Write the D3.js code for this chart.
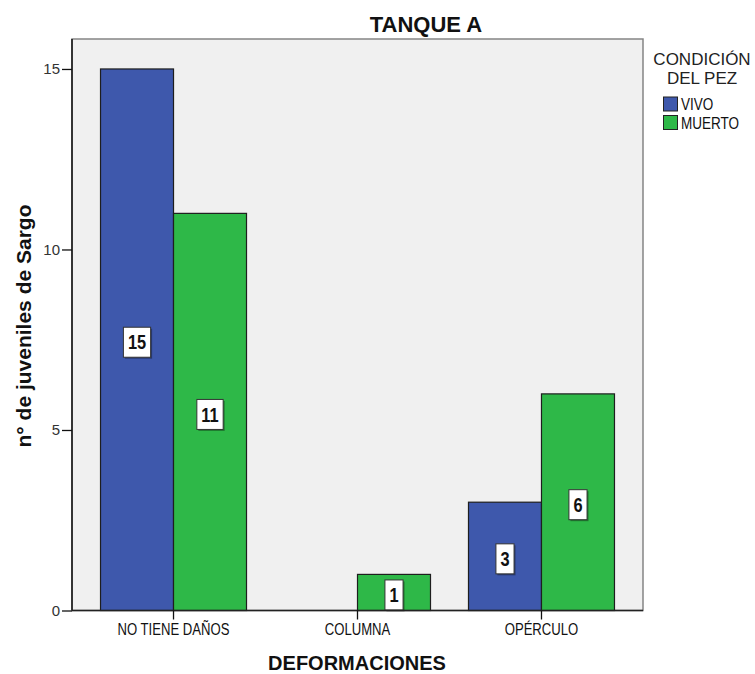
<!DOCTYPE html>
<html>
<head>
<meta charset="utf-8">
<script src="https://cdn.jsdelivr.net/npm/d3@7"></script>
<style>
  html, body { margin: 0; padding: 0; background: #ffffff; }
  svg { display: block; }
</style>
</head>
<body>
<script>
const categories = ["NO TIENE DAÑOS", "COLUMNA", "OPÉRCULO"];
const seriesNames = ["VIVO", "MUERTO"];
const vivoValues = [15, 0, 3];
const muertoValues = [11, 1, 6];
const yTicks = [0, 5, 10, 15];
const colors = ["#3e58ac", "#2eb848"];
const titleText = "TANQUE A";
const xTitle = "DEFORMACIONES";
const yTitle = "n° de juveniles de Sargo";
const legendTitle = ["CONDICIÓN", "DEL PEZ"];

const W = 755, H = 674;
const pLeft = 72, pRight = 643, pTop = 39, pBottom = 610.5;
const NARROW = 0.82;

const svg = d3.select("body").append("svg").attr("width", W).attr("height", H);

const x = d3.scaleBand().domain(categories).range([pLeft, pRight]).paddingInner(0.2065).paddingOuter(0.155);
const xs = d3.scaleBand().domain(seriesNames).range([0, x.bandwidth()]);
const y = d3.scaleLinear().domain([0, 15.83]).range([pBottom, pTop]);

const regular = "'Liberation Sans', Arial, sans-serif";

// draw narrow text (Arial Narrow look) by horizontal compression
function narrowText(parent, tx, ty, str, size, opts = {}) {
  const gg = parent.append("g").attr("transform", `translate(${tx},${ty}) scale(${NARROW},1)`);
  const t = gg.append("text").attr("x", 0).attr("y", 0)
    .attr("text-anchor", opts.anchor || "start")
    .attr("font-family", regular).attr("font-size", size)
    .attr("font-weight", opts.bold ? "bold" : "normal")
    .attr("fill", opts.fill || "#111").text(str);
  if (opts.dy) t.attr("dy", opts.dy);
  return {g: gg, t: t};
}

// plot background
svg.append("rect").attr("x", pLeft).attr("y", pTop).attr("width", pRight - pLeft).attr("height", pBottom - pTop)
  .attr("fill", "#f0f0f0").attr("stroke", "#858585").attr("stroke-width", 1.5);

const rows = categories.map((c, i) => ({cat: c, vals: [vivoValues[i], muertoValues[i]]}));

const g = svg.append("g");
rows.forEach(r => {
  r.vals.forEach((v, si) => {
    if (v <= 0) return;
    g.append("rect")
      .attr("x", x(r.cat) + xs(seriesNames[si]))
      .attr("y", y(v))
      .attr("width", xs.bandwidth())
      .attr("height", y(0) - y(v))
      .attr("fill", colors[si])
      .attr("stroke", "#1e1e1e").attr("stroke-width", 1.2);
  });
});

// axes
const yAxis = d3.axisLeft(y).tickValues(yTicks).tickSize(10).tickPadding(2);
const ya = svg.append("g").attr("transform", `translate(${pLeft},0)`).call(yAxis);
ya.select(".domain").attr("stroke", "#111").attr("stroke-width", 1.5).attr("d", `M0,${pTop}V${pBottom}`);
ya.selectAll(".tick line").attr("stroke", "#111").attr("stroke-width", 1.3);
ya.selectAll(".tick text").attr("font-family", regular).attr("font-size", 15).attr("fill", "#333");

const xAxis = d3.axisBottom(x).tickSize(9).tickFormat(() => "");
const xa = svg.append("g").attr("transform", `translate(0,${pBottom})`).call(xAxis);
xa.select(".domain").attr("stroke", "#222").attr("stroke-width", 1.5).attr("d", `M${pLeft},0H${pRight}`);
xa.selectAll(".tick line").attr("stroke", "#111").attr("stroke-width", 1.3);
categories.forEach(c => {
  narrowText(svg, x(c) + x.bandwidth() / 2, 635, c, 16, {anchor: "middle"});
});

// value labels
rows.forEach(r => {
  r.vals.forEach((v, si) => {
    if (v <= 0) return;
    const cx = x(r.cat) + xs(seriesNames[si]) + xs.bandwidth() / 2;
    const cy = (y(v) + y(0)) / 2 + 2.5;
    const lg = g.append("g");
    const shadow = lg.append("rect");
    const box = lg.append("rect");
    const nt = narrowText(lg, cx, cy, v, 20, {anchor: "middle", bold: true, dy: "0.36em"});
    const tw = nt.t.node().getComputedTextLength() * NARROW;
    const bw = tw + 9, bh = 30;
    shadow.attr("x", cx - bw / 2 + 1.5).attr("y", cy - bh / 2 + 1.5).attr("width", bw).attr("height", bh)
      .attr("fill", "#000").attr("opacity", 0.35);
    box.attr("x", cx - bw / 2).attr("y", cy - bh / 2).attr("width", bw).attr("height", bh)
      .attr("fill", "#fff").attr("stroke", "#333").attr("stroke-width", 1);
  });
});

// titles
svg.append("text").attr("x", 426).attr("y", 32).attr("text-anchor", "middle")
  .attr("font-family", regular).attr("font-weight", "bold").attr("font-size", 22).attr("fill", "#111").text(titleText);
svg.append("text").attr("x", 357).attr("y", 670).attr("text-anchor", "middle")
  .attr("font-family", regular).attr("font-weight", "bold").attr("font-size", 20).attr("fill", "#111").text(xTitle);
svg.append("text").attr("transform", `translate(31,326) rotate(-90)`).attr("text-anchor", "middle")
  .attr("font-family", regular).attr("font-weight", "bold").attr("font-size", 21).attr("fill", "#111").text(yTitle);

// legend
const lgd = svg.append("g");
legendTitle.forEach((s, i) => {
  lgd.append("text").attr("x", 702).attr("y", 65 + i * 18.5).attr("text-anchor", "middle")
    .attr("font-family", regular).attr("font-size", 17).attr("fill", "#222").text(s);
});
seriesNames.forEach((s, i) => {
  const yy = 97 + i * 18.5;
  lgd.append("rect").attr("x", 663.5).attr("y", yy).attr("width", 14).attr("height", 14)
    .attr("fill", colors[i]).attr("stroke", "#222").attr("stroke-width", 1);
  narrowText(lgd, 681, yy + 13, s, 16.5);
});
</script>
</body>
</html>
